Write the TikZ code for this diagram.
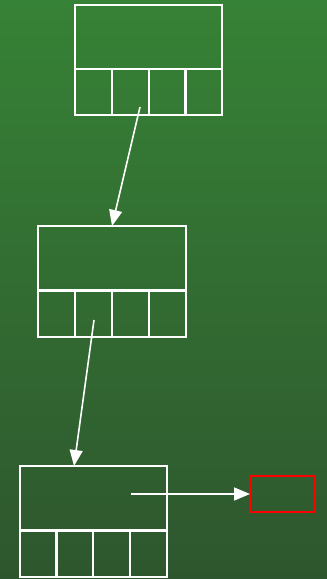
\documentclass[tikz,border=0pt]{standalone}
\usetikzlibrary{arrows.meta}
\definecolor{bgtop}{RGB}{54,130,54}
\definecolor{bgbot}{RGB}{46,86,46}
\definecolor{redbox}{RGB}{255,0,0}
\begin{document}
\begin{tikzpicture}[x=1pt,y=-1pt,
  cell/.style={draw=white,line width=2pt,minimum width=37pt,minimum height=46pt,inner sep=0pt,outer sep=0pt},
  head/.style={draw=white,line width=2pt,minimum width=#1pt,minimum height=64pt,inner sep=0pt,outer sep=0pt},
  link/.style={draw=white,line width=1.6pt,-{Triangle[length=16pt,width=13pt]}}]
\useasboundingbox (0,0) rectangle (327,579);
\shade[top color=bgtop,bottom color=bgbot] (0,0) rectangle (327,579);
% top structure
\node[head=147,anchor=north west] (ah) at (75,5) {};
\node[cell,anchor=north west] (a1) at (75,69) {};
\node[cell,anchor=north west] (a2) at (112,69) {};
\node[cell,anchor=north west] (a3) at (149,69) {};
\node[cell,anchor=north west] (a4) at (185,69) {};
% middle structure
\node[head=148,anchor=north west] (bh) at (38,226) {};
\node[cell,anchor=north west] (b1) at (38,291) {};
\node[cell,anchor=north west] (b2) at (75,291) {};
\node[cell,anchor=north west] (b3) at (112,291) {};
\node[cell,anchor=north west] (b4) at (149,291) {};
% bottom structure
\node[head=147,anchor=north west] (ch) at (20,466) {};
\node[cell,anchor=north west] (c1) at (20,531) {};
\node[cell,anchor=north west] (c2) at (56,531) {};
\node[cell,anchor=north west] (c3) at (93,531) {};
\node[cell,anchor=north west] (c4) at (130,531) {};
% red target
\node[draw=redbox,line width=2pt,minimum width=65pt,minimum height=36pt,inner sep=0pt,outer sep=0pt,anchor=north west] (r) at (250,476) {};
% arrows
\coordinate (sa) at (140,107);
\coordinate (ta) at (112,226);
\coordinate (sb) at (94,320);
\coordinate (tb) at (74,466);
\coordinate (sc) at (131,494);
\draw[link] (sa) -- (ta);
\draw[link] (sb) -- (tb);
\draw[link] (sc) -- (r.west);
\end{tikzpicture}
\end{document}
